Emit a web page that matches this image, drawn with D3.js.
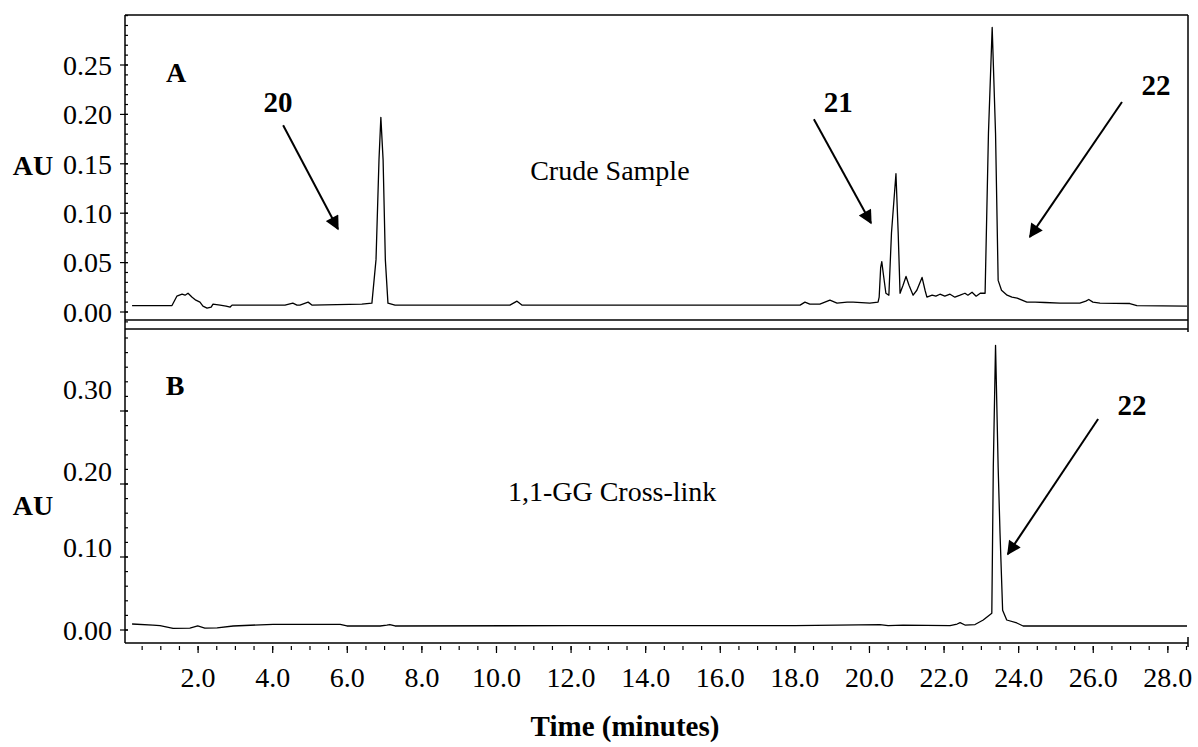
<!DOCTYPE html>
<html lang="en">
<head>
<meta charset="UTF-8">
<title>HPLC traces</title>
<script src="https://d3js.org/d3.v7.min.js"></script>
<style>
  body { margin: 0; background: #fff; }
  text { font-family: "Liberation Serif", "DejaVu Serif", serif; fill: #000; }
</style>
</head>
<body>
<script>
// panel A: crude sample (time in minutes, absorbance in AU)
const crudeTime = [0.23, 1.30, 1.43, 1.57, 1.65, 1.73, 1.84, 1.94, 2.05, 2.13, 2.24, 2.35, 2.40, 2.59, 2.75, 2.86, 2.91,
  4.33, 4.54, 4.65, 4.73, 4.95, 5.05, 6.39, 6.66, 6.77, 6.85, 6.90, 6.96, 7.02, 7.09, 7.28,
  10.36, 10.55, 10.68, 18.14, 18.27, 18.40, 18.67, 18.94, 19.13, 19.40, 19.56, 20.01,
  20.23, 20.26, 20.30, 20.33, 20.37, 20.44, 20.52, 20.59, 20.71, 20.77, 20.82, 20.90, 20.98, 21.06, 21.17, 21.27,
  21.41, 21.49, 21.54, 21.68, 21.78, 21.89, 22.02, 22.16, 22.29, 22.43, 22.56, 22.64, 22.75, 22.86, 22.97,
  23.10, 23.19, 23.29, 23.38, 23.45, 23.54, 23.69, 23.82, 23.96, 24.09, 24.22, 24.44, 24.70, 25.11, 25.64,
  25.80, 25.88, 25.99, 26.18, 26.98, 27.17, 28.54];
const crudeAU = [0.0064, 0.0066, 0.016, 0.018, 0.017, 0.019, 0.015, 0.012, 0.010, 0.006, 0.004, 0.005, 0.008, 0.007, 0.006, 0.005, 0.007,
  0.007, 0.009, 0.007, 0.007, 0.010, 0.007, 0.008, 0.009, 0.053, 0.154, 0.197, 0.154, 0.053, 0.009, 0.007,
  0.007, 0.011, 0.007, 0.007, 0.010, 0.008, 0.008, 0.012, 0.009, 0.010, 0.010, 0.009,
  0.010, 0.015, 0.045, 0.051, 0.039, 0.019, 0.017, 0.080, 0.140, 0.080, 0.019, 0.027, 0.036, 0.027, 0.017, 0.022,
  0.035, 0.022, 0.015, 0.017, 0.016, 0.018, 0.016, 0.018, 0.015, 0.017, 0.019, 0.017, 0.020, 0.016, 0.019,
  0.019, 0.181, 0.288, 0.181, 0.032, 0.022, 0.017, 0.015, 0.014, 0.012, 0.010, 0.010, 0.0096, 0.009, 0.009,
  0.011, 0.0127, 0.010, 0.009, 0.0086, 0.0065, 0.006];

// panel B: 1,1-GG cross-link
const crossTime = [0.23, 0.79, 0.98, 1.33, 1.78, 1.99, 2.18, 2.51, 2.94, 4.01, 5.81, 5.99, 6.88, 7.06, 7.14, 7.28,
  12.0, 18.0, 20.28, 20.5, 20.90, 22.16, 22.35, 22.43, 22.56, 22.83, 23.05, 23.28, 23.32, 23.38, 23.45,
  23.50, 23.57, 23.68, 23.95, 24.12, 28.54];
const crossAU = [0.0082, 0.0068, 0.006, 0.0023, 0.0027, 0.0055, 0.0027, 0.003, 0.0055, 0.0078, 0.0078, 0.0055, 0.0055, 0.0068, 0.0075, 0.0055,
  0.006, 0.006, 0.0075, 0.006, 0.0068, 0.006, 0.0082, 0.010, 0.0068, 0.0075, 0.0137, 0.023, 0.223, 0.390, 0.223,
  0.133, 0.027, 0.0137, 0.0096, 0.0055, 0.0055];

// axis ticks
const timeTicks = [2, 4, 6, 8, 10, 12, 14, 16, 18, 20, 22, 24, 26, 28];
const ticksA = [0, 0.05, 0.10, 0.15, 0.20, 0.25];
const ticksB = [0, 0.10, 0.20, 0.30];

// annotations: [label, label t, label AU, tail t, tail AU, tip t, tip AU]
const notesA = [["20", 4.14, 0.2125, 4.28, 0.189, 5.75, 0.084],
                ["21", 19.16, 0.2125, 18.51, 0.195, 20.04, 0.090],
                ["22", 27.68, 0.230, 26.77, 0.2125, 24.30, 0.076]];
const notesB = [["22", 27.04, 0.308, 26.13, 0.289, 23.71, 0.104]];

const width = 1198, height = 747;
const left = 125, right = 1188;
const aTop = 15, aBot = 320, bTop = 329, bBot = 643;

const x = d3.scaleLinear().domain([0, 28.54]).range([123.5, 1188]);
const yA = d3.scaleLinear().domain([0, 0.25]).range([312, 65]);
const yB = d3.scaleLinear().domain([0, 0.30]).range([630, 411]);
// the printed B labels sit a little above their tick marks
const yBLabel = d3.scaleLinear().domain([0, 0.1, 0.2, 0.3]).range([630, 547, 471, 389]);

const svg = d3.select("body").append("svg")
    .attr("width", width)
    .attr("height", height);

svg.append("defs").append("marker")
    .attr("id", "head")
    .attr("viewBox", "0 0 10 10")
    .attr("refX", 9).attr("refY", 5)
    .attr("markerWidth", 8).attr("markerHeight", 7)
    .attr("markerUnits", "strokeWidth")
    .attr("orient", "auto")
  .append("path")
    .attr("d", "M0,0L10,5L0,10z")
    .attr("fill", "#000");

svg.append("clipPath").attr("id", "clipA")
  .append("rect").attr("x", left + 1).attr("y", aTop).attr("width", right - left - 2).attr("height", aBot - aTop);
svg.append("clipPath").attr("id", "clipB")
  .append("rect").attr("x", left + 1).attr("y", bTop).attr("width", right - left - 2).attr("height", bBot - bTop);

// frame
const frame = svg.append("g").attr("stroke", "#000").attr("stroke-width", 1.5);
frame.append("line").attr("x1", left).attr("x2", right).attr("y1", aTop).attr("y2", aTop);
frame.append("line").attr("x1", left).attr("x2", right).attr("y1", aBot).attr("y2", aBot);
frame.append("line").attr("x1", left).attr("x2", right).attr("y1", bTop).attr("y2", bTop);
frame.append("line").attr("x1", left).attr("x2", right).attr("y1", bBot).attr("y2", bBot);
frame.append("line").attr("x1", left).attr("x2", left).attr("y1", aTop).attr("y2", bBot);
frame.append("line").attr("x1", right).attr("x2", right).attr("y1", aTop).attr("y2", bTop + 3);
frame.append("line").attr("x1", right).attr("x2", right).attr("y1", bBot - 6).attr("y2", bBot + 4);

// y ticks
function yTicks(y, yLab, lo, hi, step, major) {
  const g = svg.append("g").attr("stroke", "#000").attr("stroke-width", 1.2);
  const minor = d3.range(Math.round(lo / step), Math.round(hi / step) + 1).map(i => i * step);
  g.selectAll(".mn").data(minor).join("line")
    .attr("x1", left).attr("x2", left + 3)
    .attr("y1", d => y(d)).attr("y2", d => y(d));
  g.selectAll(".mj").data(major).join("line")
    .attr("x1", left - 5).attr("x2", left + 3)
    .attr("y1", d => y(d)).attr("y2", d => y(d));
  svg.append("g").selectAll("text").data(major).join("text")
    .attr("x", 112).attr("y", d => yLab(d))
    .attr("dy", "0.35em")
    .attr("text-anchor", "end")
    .style("font-size", "28px")
    .text(d3.format(".2f"));
}
yTicks(yA, yA, -0.01, 0.30, 0.01, ticksA);
yTicks(yB, yBLabel, 0, 0.40, 0.02, ticksB);

// x ticks
const xt = svg.append("g").attr("stroke", "#000").attr("stroke-width", 1.2);
xt.selectAll(".mn").data(d3.range(1, 58).map(i => i * 0.5)).join("line")
  .attr("x1", d => x(d)).attr("x2", d => x(d))
  .attr("y1", bBot + 3).attr("y2", bBot + 7);
xt.selectAll(".mj").data(timeTicks).join("line")
  .attr("x1", d => x(d)).attr("x2", d => x(d))
  .attr("y1", bBot + 3).attr("y2", bBot + 10);
svg.append("g").selectAll("text").data(timeTicks).join("text")
  .attr("x", d => x(d)).attr("y", 677)
  .attr("dy", "0.35em")
  .attr("text-anchor", "middle")
  .style("font-size", "28px")
  .text(d3.format(".1f"));

svg.append("text").attr("x", 625).attr("y", 726).attr("dy", "0.35em")
  .attr("text-anchor", "middle")
  .style("font-size", "29px").style("font-weight", "bold")
  .text("Time (minutes)");

// traces
function trace(ts, vs, y, clip) {
  const pts = ts.map((t, i) => [t, vs[i]]);
  svg.append("path")
    .datum(pts)
    .attr("clip-path", `url(#${clip})`)
    .attr("fill", "none")
    .attr("stroke", "#000")
    .attr("stroke-width", 1.3)
    .attr("stroke-linejoin", "round")
    .attr("d", d3.line().x(d => x(d[0])).y(d => y(d[1])));
}
trace(crudeTime, crudeAU, yA, "clipA");
trace(crossTime, crossAU, yB, "clipB");

// labels
function bold(t, px, py, size) {
  svg.append("text").attr("x", px).attr("y", py).attr("dy", "0.35em")
    .attr("text-anchor", "middle")
    .style("font-size", size + "px").style("font-weight", "bold")
    .text(t);
}
bold("AU", 33, 165, 28);
bold("AU", 33, 505, 28);
bold("A", x(1.41), yA(0.243), 28);
bold("B", x(1.38), yB(0.336), 28);

svg.append("text").attr("x", x(13.04)).attr("y", yA(0.144)).attr("dy", "0.35em")
  .attr("text-anchor", "middle").style("font-size", "28px").text("Crude Sample");
svg.append("text").attr("x", x(13.10)).attr("y", yB(0.190)).attr("dy", "0.35em")
  .attr("text-anchor", "middle").style("font-size", "28px").text("1,1-GG Cross-link");

function arrows(notes, y) {
  notes.forEach(n => {
    bold(n[0], x(n[1]), y(n[2]), 29);
    svg.append("line")
      .attr("x1", x(n[3])).attr("y1", y(n[4]))
      .attr("x2", x(n[5])).attr("y2", y(n[6]))
      .attr("stroke", "#000").attr("stroke-width", 2)
      .attr("marker-end", "url(#head)");
  });
}
arrows(notesA, yA);
arrows(notesB, yB);
</script>
</body>
</html>
